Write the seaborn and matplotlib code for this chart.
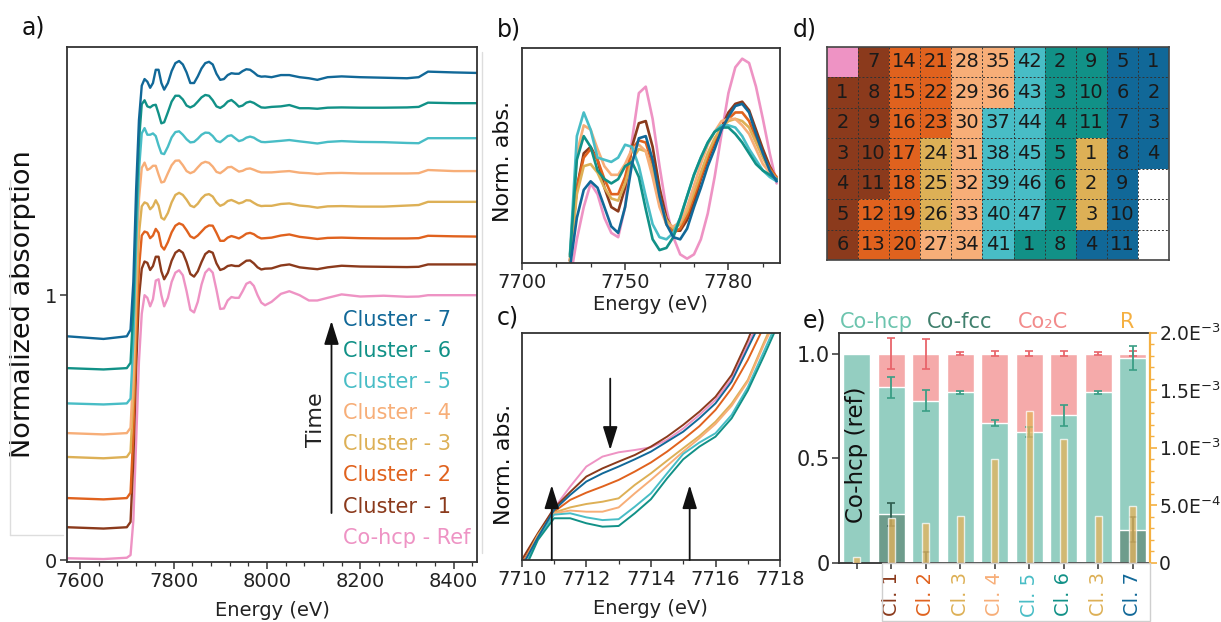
import numpy as np
import pandas as pd
import matplotlib
matplotlib.use("Agg")
import matplotlib.pyplot as plt
from matplotlib.colors import ListedColormap
from matplotlib.patches import Rectangle
from matplotlib.lines import Line2D
from matplotlib.ticker import AutoMinorLocator, MultipleLocator
import seaborn as sns

sns.set_theme(style="ticks")
plt.rcParams['font.family'] = ['DejaVu Sans']

# spectra: names and colours (ref first, then clusters 1..7)
names = ["Co-hcp - Ref", "Cluster - 1", "Cluster - 2", "Cluster - 3",
         "Cluster - 4", "Cluster - 5", "Cluster - 6", "Cluster - 7"]
colors = ['#EE93C4', '#8B3A1C', '#E0621E', '#DDB056',
          '#F7AE78', '#48BDC6', '#119187', '#116898']

# ---------------- a) full spectra, stacked
a_energy = [7572, 7650, 7700, 7708, 7714, 7720, 7726, 7732,
            7738, 7744, 7750, 7756, 7762, 7768, 7774, 7780, 7788, 7796, 7804, 7812,
            7820, 7828, 7836, 7844, 7852, 7860, 7868, 7876, 7884, 7892, 7900, 7908,
            7916, 7924, 7932, 7940, 7948, 7956, 7964, 7972, 7980, 7988, 7996,
            8010, 8030, 8048, 8070, 8090, 8108, 8130, 8160, 8200, 8250, 8300, 8325,
            8345, 8400, 8450]
a_ref = [0.008, 0.005, 0.01, 0.02, 0.15, 0.45, 0.75, 0.93,
         1.0, 0.99, 0.958, 0.985, 1.055, 1.06, 1.0, 0.958, 0.99, 1.05, 1.085, 1.094,
         1.075, 1.015, 0.945, 0.935, 0.975, 1.04, 1.085, 1.1, 1.085, 1.02, 0.948, 0.95,
         0.98, 0.993, 0.99, 0.99, 1.015, 1.043, 1.05, 1.035, 1.0, 0.972, 0.962,
         0.975, 1.005, 1.015, 1.0, 0.98, 0.98, 0.99, 1.003, 0.995, 0.998, 0.994, 0.995,
         1.0, 1.0, 1.0]
a_cl1 = [0.125, 0.12, 0.125, 0.145, 0.38, 0.73, 0.99, 1.10,
         1.127, 1.122, 1.095, 1.11, 1.145, 1.145, 1.09, 1.06, 1.085, 1.13, 1.16, 1.17,
         1.16, 1.125, 1.08, 1.07, 1.09, 1.125, 1.155, 1.166, 1.16, 1.12, 1.095, 1.1,
         1.11, 1.113, 1.11, 1.11, 1.12, 1.13, 1.131, 1.12, 1.105, 1.097, 1.1,
         1.101, 1.112, 1.116, 1.105, 1.101, 1.098, 1.105, 1.111, 1.108, 1.107, 1.106, 1.107,
         1.116, 1.116, 1.116]
a_cl2 = [0.235, 0.23, 0.235, 0.255, 0.48, 0.83, 1.10, 1.225,
         1.24, 1.236, 1.215, 1.225, 1.25, 1.235, 1.185, 1.172, 1.2, 1.237, 1.262, 1.271,
         1.265, 1.245, 1.222, 1.215, 1.225, 1.24, 1.255, 1.263, 1.262, 1.235, 1.205, 1.205,
         1.217, 1.223, 1.219, 1.214, 1.222, 1.232, 1.235, 1.23, 1.22, 1.214, 1.215,
         1.217, 1.225, 1.229, 1.22, 1.216, 1.212, 1.216, 1.217, 1.215, 1.214, 1.214, 1.215,
         1.224, 1.222, 1.221]
a_cl3 = [0.39, 0.385, 0.39, 0.41, 0.62, 0.96, 1.23, 1.335,
         1.35, 1.345, 1.324, 1.335, 1.358, 1.338, 1.292, 1.285, 1.31, 1.35, 1.378, 1.386,
         1.378, 1.36, 1.338, 1.332, 1.345, 1.365, 1.378, 1.381, 1.372, 1.35, 1.337, 1.343,
         1.355, 1.359, 1.353, 1.346, 1.35, 1.358, 1.357, 1.348, 1.34, 1.336, 1.337,
         1.337, 1.344, 1.346, 1.338, 1.335, 1.33, 1.335, 1.336, 1.334, 1.334, 1.338, 1.34,
         1.352, 1.352, 1.352]
a_cl4 = [0.48, 0.475, 0.48, 0.50, 0.72, 1.07, 1.36, 1.48,
         1.50, 1.472, 1.478, 1.488, 1.488, 1.455, 1.425, 1.428, 1.46, 1.49, 1.507, 1.508,
         1.49, 1.468, 1.46, 1.466, 1.482, 1.497, 1.503, 1.499, 1.485, 1.465, 1.46, 1.47,
         1.482, 1.484, 1.475, 1.466, 1.469, 1.476, 1.478, 1.473, 1.467, 1.463, 1.463,
         1.463, 1.466, 1.468, 1.462, 1.46, 1.457, 1.46, 1.461, 1.459, 1.459, 1.459, 1.46,
         1.472, 1.468, 1.468]
a_cl5 = [0.592, 0.588, 0.592, 0.61, 0.83, 1.18, 1.47, 1.61,
         1.63, 1.605, 1.605, 1.61, 1.60, 1.565, 1.535, 1.532, 1.56, 1.595, 1.615, 1.618,
         1.605, 1.588, 1.576, 1.578, 1.59, 1.605, 1.613, 1.612, 1.60, 1.582, 1.577, 1.588,
         1.60, 1.603, 1.592, 1.581, 1.585, 1.594, 1.598, 1.594, 1.585, 1.578, 1.577,
         1.579, 1.582, 1.585, 1.58, 1.576, 1.572, 1.578, 1.581, 1.578, 1.577, 1.574, 1.573,
         1.592, 1.592, 1.592]
a_cl6 = [0.725, 0.72, 0.725, 0.745, 0.95, 1.30, 1.58, 1.72,
         1.735, 1.712, 1.708, 1.716, 1.718, 1.685, 1.648, 1.652, 1.69, 1.73, 1.752, 1.752,
         1.738, 1.715, 1.708, 1.715, 1.73, 1.746, 1.755, 1.752, 1.735, 1.712, 1.706, 1.715,
         1.73, 1.736, 1.725, 1.711, 1.715, 1.726, 1.73, 1.725, 1.716, 1.708, 1.707,
         1.71, 1.712, 1.717, 1.705, 1.705, 1.703, 1.707, 1.708, 1.707, 1.707, 1.708, 1.71,
         1.726, 1.724, 1.724]
a_cl7 = [0.845, 0.835, 0.845, 0.87, 1.05, 1.40, 1.66, 1.79,
         1.815, 1.805, 1.782, 1.80, 1.85, 1.85, 1.80, 1.775, 1.80, 1.845, 1.875, 1.883,
         1.87, 1.84, 1.80, 1.80, 1.825, 1.855, 1.875, 1.88, 1.87, 1.835, 1.812, 1.815,
         1.83, 1.837, 1.835, 1.835, 1.845, 1.852, 1.85, 1.84, 1.828, 1.824, 1.825,
         1.822, 1.83, 1.83, 1.822, 1.818, 1.812, 1.822, 1.825, 1.822, 1.82, 1.818, 1.822,
         1.843, 1.84, 1.838]

# ---------------- b) XANES region
b_energy = [7734, 7736, 7738, 7740, 7742, 7744, 7746, 7748, 7750, 7752, 7754,
            7756, 7758, 7760, 7762, 7764, 7766, 7768, 7770, 7772, 7774, 7776,
            7778, 7780, 7782, 7784, 7786, 7788, 7790, 7792, 7794]
b_ticks = [7720, 7750, 7780]
b_ticklabels = ["7700", "7750", "7780"]
b_ref = [-0.08, 0.11, 0.26, 0.37, 0.32, 0.21, 0.14, 0.12, 0.26, 0.57, 0.79, 0.82, 0.67, 0.45,
         0.25, 0.12, 0.04, 0.02, 0.04, 0.11, 0.23, 0.40, 0.60, 0.79, 0.91, 0.95, 0.93, 0.82,
         0.67, 0.51, 0.37]
b_cl1 = [0.01, 0.35, 0.51, 0.54, 0.48, 0.35, 0.26, 0.24, 0.35, 0.54, 0.65, 0.66, 0.54, 0.35,
         0.21, 0.15, 0.15, 0.20, 0.28, 0.39, 0.48, 0.56, 0.63, 0.70, 0.74, 0.75, 0.71, 0.62,
         0.53, 0.45, 0.39]
b_cl2 = [0.01, 0.35, 0.49, 0.53, 0.48, 0.39, 0.32, 0.32, 0.40, 0.53, 0.57, 0.56, 0.46, 0.31,
         0.18, 0.14, 0.16, 0.22, 0.31, 0.40, 0.49, 0.57, 0.63, 0.67, 0.70, 0.70, 0.66, 0.58,
         0.50, 0.44, 0.40]
b_cl3 = [0.0, 0.32, 0.45, 0.46, 0.42, 0.35, 0.30, 0.29, 0.37, 0.48, 0.53, 0.52, 0.43, 0.29,
         0.20, 0.16, 0.18, 0.24, 0.33, 0.42, 0.51, 0.58, 0.63, 0.66, 0.67, 0.66, 0.63, 0.56,
         0.49, 0.43, 0.39]
b_cl4 = [0.03, 0.51, 0.64, 0.62, 0.53, 0.45, 0.41, 0.41, 0.46, 0.53, 0.55, 0.52, 0.40, 0.26,
         0.18, 0.17, 0.19, 0.26, 0.36, 0.46, 0.55, 0.61, 0.66, 0.67, 0.67, 0.64, 0.60, 0.53,
         0.46, 0.42, 0.39]
b_cl5 = [0.04, 0.59, 0.70, 0.62, 0.49, 0.48, 0.47, 0.49, 0.55, 0.54, 0.45, 0.31, 0.18, 0.12,
         0.11, 0.14, 0.21, 0.31, 0.41, 0.49, 0.56, 0.61, 0.64, 0.64, 0.63, 0.59, 0.53, 0.48,
         0.43, 0.40, 0.38]
b_cl6 = [0.03, 0.48, 0.59, 0.54, 0.43, 0.39, 0.37, 0.39, 0.45, 0.47, 0.40, 0.25, 0.11, 0.06,
         0.07, 0.12, 0.21, 0.31, 0.41, 0.49, 0.56, 0.61, 0.63, 0.63, 0.60, 0.56, 0.51, 0.46,
         0.43, 0.41, 0.39]
b_cl7 = [-0.02, 0.21, 0.34, 0.38, 0.35, 0.26, 0.17, 0.14, 0.26, 0.46, 0.58, 0.59, 0.48, 0.31,
         0.18, 0.12, 0.11, 0.16, 0.26, 0.35, 0.45, 0.53, 0.62, 0.68, 0.73, 0.74, 0.70, 0.60,
         0.51, 0.43, 0.38]

# ---------------- c) pre-edge region
c_energy = [7710, 7710.5, 7711, 7711.5, 7712, 7712.5, 7713, 7713.5, 7714,
            7714.5, 7715, 7715.5, 7716, 7716.5, 7717, 7717.5, 7718]
c_ref = [-0.02, 0.11, 0.228, 0.324, 0.412, 0.456, 0.475, 0.485, 0.497, 0.53, 0.58, 0.64,
         0.706, 0.80, 0.95, 1.1, 1.25]
c_cl1 = [0.0, 0.118, 0.228, 0.30, 0.368, 0.404, 0.434, 0.463, 0.50, 0.544, 0.596, 0.654,
         0.72, 0.816, 0.97, 1.15, 1.3]
c_cl2 = [-0.02, 0.11, 0.213, 0.265, 0.297, 0.324, 0.353, 0.39, 0.43, 0.478, 0.532, 0.59,
         0.662, 0.757, 0.882, 1.03, 1.2]
c_cl3 = [-0.03, 0.11, 0.209, 0.232, 0.247, 0.257, 0.272, 0.331, 0.382, 0.438, 0.493, 0.547,
         0.61, 0.69, 0.794, 0.96, 1.12]
c_cl4 = [-0.03, 0.105, 0.206, 0.218, 0.213, 0.213, 0.232, 0.294, 0.353, 0.415, 0.478, 0.537,
         0.60, 0.68, 0.787, 0.95, 1.1]
c_cl5 = [-0.06, 0.096, 0.20, 0.206, 0.188, 0.176, 0.18, 0.235, 0.294, 0.382, 0.468, 0.518,
         0.559, 0.64, 0.762, 0.92, 1.08]
c_cl6 = [-0.07, 0.088, 0.184, 0.184, 0.162, 0.147, 0.15, 0.206, 0.268, 0.36, 0.444, 0.50,
         0.544, 0.625, 0.747, 0.90, 1.06]
c_cl7 = [-0.03, 0.10, 0.22, 0.287, 0.346, 0.382, 0.412, 0.444, 0.478, 0.522, 0.566, 0.625,
         0.691, 0.787, 0.934, 1.08, 1.25]
# arrows in c): energy, start, tip
c_arrows = [(7710.93, 0.0, 0.33), (7712.74, 0.80, 0.485), (7715.2, 0.0, 0.33)]

# ---------------- d) cluster map (0 = ref, 1..7 clusters, -1 = empty)
d_codes = [[0, 1, 2, 2, 4, 4, 5, 6, 6, 7, 7],
           [1, 1, 2, 2, 4, 4, 5, 6, 6, 7, 7],
           [1, 1, 2, 2, 4, 5, 5, 6, 6, 7, 7],
           [1, 1, 2, 3, 4, 5, 5, 6, 3, 7, 7],
           [1, 1, 2, 3, 4, 5, 5, 6, 3, 7, -1],
           [1, 2, 2, 3, 4, 5, 5, 6, 3, 7, -1],
           [1, 2, 2, 4, 4, 5, 6, 6, 7, 7, -1]]
d_labels = [["", "7", "14", "21", "28", "35", "42", "2", "9", "5", "1"],
            ["1", "8", "15", "22", "29", "36", "43", "3", "10", "6", "2"],
            ["2", "9", "16", "23", "30", "37", "44", "4", "11", "7", "3"],
            ["3", "10", "17", "24", "31", "38", "45", "5", "1", "8", "4"],
            ["4", "11", "18", "25", "32", "39", "46", "6", "2", "9", ""],
            ["5", "12", "19", "26", "33", "40", "47", "7", "3", "10", ""],
            ["6", "13", "20", "27", "34", "41", "1", "8", "4", "11", ""]]

# ---------------- e) LCF fractions
e_labels = ["", "Cl. 1", "Cl. 2", "Cl. 3", "Cl. 4", "Cl. 5", "Cl. 6", "Cl. 3", "Cl. 7"]
e_label_colors = ['#000000', colors[1], colors[2], colors[3], colors[4],
                  colors[5], colors[6], colors[3], colors[7]]
e_fcc = [0.0, 0.233, 0.0, 0.0, 0.0, 0.0, 0.0, 0.0, 0.157]
e_hcp = [1.0, 0.607, 0.775, 0.815, 0.668, 0.625, 0.705, 0.815, 0.822]
e_co2c = [0.0, 0.16, 0.225, 0.185, 0.332, 0.375, 0.295, 0.185, 0.021]
e_fcc_err = [0.0, 0.055, 0.053, 0.0, 0.0, 0.0, 0.0, 0.0, 0.06]
e_hcp_err = [0.0, 0.05, 0.05, 0.008, 0.014, 0.026, 0.05, 0.008, 0.056]
e_co2c_err = [0.0, 0.075, 0.072, 0.008, 0.012, 0.013, 0.012, 0.008, 0.012]
e_r = [5.2e-5, 3.87e-4, 3.43e-4, 4.07e-4, 9.01e-4, 1.317e-3, 1.078e-3, 4.07e-4, 4.94e-4]
r_ticks = [0, 5e-4, 1e-3, 1.5e-3, 2e-3]
r_ticklabels = ["0", "5.0E$^{-4}$", "1.0E$^{-3}$", "1.5E$^{-3}$", "2.0E$^{-3}$"]

C_HCP, C_FCC, C_CO2C, C_R = '#94CEC1', '#6E9C8C', '#F5AAAA', '#E6B25A'
SPINE = '#333333'


def long_frame(energy, curves):
    parts = [pd.DataFrame({"Energy": energy, "Abs": v, "Spectrum": n})
             for n, v in zip(names, curves)]
    return pd.concat(parts, ignore_index=True)


def style(ax, size=14):
    for s in ax.spines.values():
        s.set_visible(True)
        s.set_color(SPINE)
        s.set_linewidth(1.3)
    ax.tick_params(which='major', direction='out', length=5, width=1.1,
                   color=SPINE, labelsize=size, labelcolor='#222222', pad=2)
    ax.tick_params(which='minor', direction='out', length=3, width=0.9, color=SPINE)
    ax.set_xlabel("")
    ax.set_ylabel("")


fig = plt.figure(figsize=(12.21, 6.22), dpi=100)

# faint frame lines that sit in the original figure
for xs, ys in [([482, 482], [52, 553]), ([10, 10], [180, 535]), ([10, 63], [535, 535])]:
    fig.add_artist(Line2D([x / 1221 for x in xs], [1 - y / 622 for y in ys],
                          color='#DDDDDD', lw=1))

# ---- a
ax_a = fig.add_axes([0.0549, 0.0965, 0.3358, 0.828])
df_a = long_frame(a_energy, [a_ref, a_cl1, a_cl2, a_cl3, a_cl4, a_cl5, a_cl6, a_cl7])
sns.lineplot(data=df_a, x="Energy", y="Abs", hue="Spectrum", hue_order=names,
             palette=colors, lw=1.7, legend=False, estimator=None, ax=ax_a)
style(ax_a)
ax_a.set_xlim(7572, 8450)
ax_a.set_ylim(-0.006, 1.936)
ax_a.set_xticks([7600, 7800, 8000, 8200, 8400])
ax_a.xaxis.set_minor_locator(AutoMinorLocator(5))
ax_a.set_yticks([0, 1])
ax_a.set_yticklabels(["0", "1"])
ax_a.set_xlabel("Energy (eV)", fontsize=14, color='#222222')
ax_a.xaxis.set_label_coords(0.5, -0.075)
ax_a.set_ylabel("Normalized absorption", fontsize=19.5, color='#111111')
ax_a.yaxis.set_label_coords(-0.075, 0.5)
for i, (n, c) in enumerate(zip(names[::-1], colors[::-1])):
    ax_a.text(0.672, 0.470 - i * 0.0604, n, color=c, fontsize=15,
              transform=ax_a.transAxes, ha='left', va='center')
ax_a.annotate("", xy=(0.645, 0.468), xytext=(0.645, 0.095),
              xycoords='axes fraction', textcoords='axes fraction',
              arrowprops=dict(arrowstyle="-|>,head_length=0.8,head_width=0.25",
                              color='#111111', lw=1.3, shrinkA=0, shrinkB=0,
                              mutation_scale=18))
ax_a.text(0.607, 0.276, "Time", rotation=90, fontsize=16, color='#222222',
          transform=ax_a.transAxes, ha='center', va='center')

# ---- b
ax_b = fig.add_axes([0.4273, 0.5772, 0.2116, 0.3457])
df_b = long_frame(b_energy, [b_ref, b_cl1, b_cl2, b_cl3, b_cl4, b_cl5, b_cl6, b_cl7])
sns.lineplot(data=df_b, x="Energy", y="Abs", hue="Spectrum", hue_order=names,
             palette=colors, lw=1.9, legend=False, estimator=None, ax=ax_b)
style(ax_b)
ax_b.set_xlim(7720, 7795)
ax_b.set_ylim(0, 1)
ax_b.set_xticks(b_ticks)
ax_b.set_xticklabels(b_ticklabels)
ax_b.xaxis.set_minor_locator(MultipleLocator(10))
ax_b.set_yticks([])
ax_b.set_xlabel("Energy (eV)", fontsize=14, color='#222222')
ax_b.xaxis.set_label_coords(0.5, -0.15)
ax_b.set_ylabel("Norm. abs.", fontsize=16, color='#111111')
ax_b.yaxis.set_label_coords(-0.035, 0.47)

# ---- c
ax_c = fig.add_axes([0.4273, 0.0997, 0.2116, 0.3645])
df_c = long_frame(c_energy, [c_ref, c_cl1, c_cl2, c_cl3, c_cl4, c_cl5, c_cl6, c_cl7])
sns.lineplot(data=df_c, x="Energy", y="Abs", hue="Spectrum", hue_order=names,
             palette=colors, lw=1.4, legend=False, estimator=None, ax=ax_c)
style(ax_c)
ax_c.set_xlim(7710, 7718)
ax_c.set_ylim(0, 1)
ax_c.set_xticks([7710, 7712, 7714, 7716, 7718])
ax_c.xaxis.set_minor_locator(MultipleLocator(1))
ax_c.set_yticks([])
ax_c.set_xlabel("Energy (eV)", fontsize=14, color='#222222')
ax_c.xaxis.set_label_coords(0.5, -0.17)
ax_c.set_ylabel("Norm. abs.", fontsize=16, color='#111111')
ax_c.yaxis.set_label_coords(-0.028, 0.42)
for x, y0, y1 in c_arrows:
    ax_c.annotate("", xy=(x, y1), xytext=(x, y0),
                  arrowprops=dict(arrowstyle="-|>,head_length=0.8,head_width=0.25",
                                  color='#111111', lw=1.3, shrinkA=0, shrinkB=0,
                                  mutation_scale=18))

# ---- d
ax_d = fig.add_axes([0.6773, 0.582, 0.2801, 0.343])
d_cmap = ListedColormap(['#FFFFFF'] + colors)
sns.heatmap(pd.DataFrame(d_codes), cmap=d_cmap, vmin=-1.5, vmax=7.5,
            annot=np.array(d_labels), fmt="", cbar=False, ax=ax_d,
            xticklabels=False, yticklabels=False,
            annot_kws=dict(fontsize=14, color='#1A1A1A'))
nrow, ncol = len(d_codes), len(d_codes[0])
ax_d.hlines(range(1, nrow), 0, ncol, colors='#333333', linestyles=(0, (2, 2)), lw=0.7)
ax_d.vlines(range(1, ncol), 0, nrow, colors='#333333', linestyles=(0, (2, 2)), lw=0.7)
for s in ax_d.spines.values():
    s.set_visible(True)
    s.set_color('#444444')
    s.set_linewidth(1.2)
ax_d.set_yticks(range(1, nrow))
ax_d.tick_params(axis='y', direction='in', length=7, width=1, color='#333333', labelleft=False)
ax_d.tick_params(axis='x', length=0)

# ---- e
ax_e = fig.add_axes([0.6874, 0.0953, 0.2545, 0.3698])
pos = list(range(len(e_labels)))
cum_hcp = [f + h for f, h in zip(e_fcc, e_hcp)]
cum_all = [c + p for c, p in zip(cum_hcp, e_co2c)]
sns.barplot(x=pos, y=cum_all, color=C_CO2C, width=0.78, saturation=1, ax=ax_e)
sns.barplot(x=pos, y=cum_hcp, color=C_HCP, width=0.78, saturation=1, ax=ax_e)
sns.barplot(x=pos, y=e_fcc, color=C_FCC, width=0.78, saturation=1, ax=ax_e)
ax_e.errorbar(pos[1:], cum_all[1:], yerr=e_co2c_err[1:], fmt='none', ecolor='#E8646A',
              elinewidth=1.3, capsize=3, capthick=1.2)
ax_e.errorbar(pos[1:], cum_hcp[1:], yerr=e_hcp_err[1:], fmt='none', ecolor='#3A9E85',
              elinewidth=1.3, capsize=3, capthick=1.2)
fcc_idx = [i for i in pos if e_fcc_err[i] > 0]
ax_e.errorbar(fcc_idx, [e_fcc[i] for i in fcc_idx], yerr=[e_fcc_err[i] for i in fcc_idx],
              fmt='none', ecolor='#2F5E50', elinewidth=1.3, capsize=3, capthick=1.2)
ax_e.text(0, 0.515, "Co-hcp (ref)", rotation=90, ha='center', va='center',
          fontsize=16.5, color='#111111')

ax_r = ax_e.twinx()
sns.barplot(x=pos, y=e_r, color=C_R, width=0.2, saturation=1, alpha=0.75, ax=ax_r)
ax_r.set_ylim(0, 2.0e-3)
ax_r.set_yticks(r_ticks)
ax_r.set_yticklabels(r_ticklabels)
ax_r.yaxis.set_minor_locator(MultipleLocator(1e-4))
ax_r.tick_params(axis='y', which='major', direction='out', length=5, width=1.2,
                 color='#F5B041', labelsize=13.5, labelcolor='#222222', pad=1.5)
ax_r.tick_params(axis='y', which='minor', direction='out', length=3, width=1,
                 color='#F5B041')
for k in ['left', 'top', 'bottom']:
    ax_r.spines[k].set_visible(False)
ax_r.spines['right'].set_color('#F5B041')
ax_r.spines['right'].set_linewidth(1.6)
ax_r.set_ylabel("")

style(ax_e, size=15)
ax_e.spines['right'].set_visible(False)
ax_e.set_xlim(-0.5, len(pos) - 0.5)
ax_e.set_ylim(0, 1.10)
ax_e.set_yticks([0, 0.5, 1.0])
ax_e.set_yticklabels(["0", "0.5", "1.0"])
ax_e.set_xticks(pos)
ax_e.set_xticklabels(e_labels, rotation=90, fontsize=14)
ax_e.tick_params(axis='x', length=4, pad=3)
for lbl, col in zip(ax_e.get_xticklabels(), e_label_colors):
    lbl.set_color(col)

# box round the cluster labels
fig.patches.append(Rectangle((881.7 / 1221, 0.001), (1150 - 881.7) / 1221, 0.0943,
                             transform=fig.transFigure, fill=False,
                             edgecolor='#CFCFCF', lw=1))

# legend words above e)
for x, txt, col in [(840, "Co-hcp", '#6CC4AE'), (927, "Co-fcc", '#3F7F6C'),
                    (1018, "Co₂C", '#F28B8B'), (1120, "R", '#F5B041')]:
    fig.text(x / 1221, 1 - 322 / 622, txt, color=col, fontsize=15, ha='left', va='center')

# panel letters
for x, y, txt in [(22, 28, "a)"), (497, 29, "b)"), (497, 318, "c)"),
                  (793, 29, "d)"), (803, 321, "e)")]:
    fig.text(x / 1221, 1 - y / 622, txt, fontsize=17, color='#111111', ha='left', va='center')

fig.savefig("out.png", dpi=100)
